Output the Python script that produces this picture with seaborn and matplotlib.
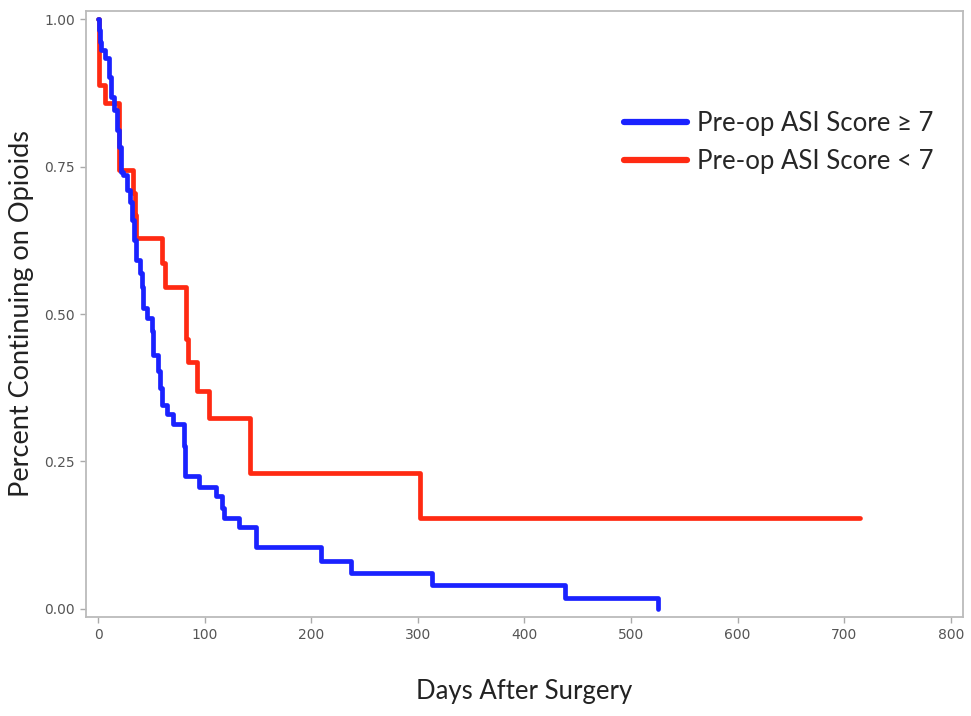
import numpy as np
import pandas as pd
import matplotlib
matplotlib.use("Agg")
import matplotlib.pyplot as plt
import seaborn as sns

# ==========================================================
# Data
# ==========================================================

HIGH_LABEL = "Pre-op ASI Score \u2265 7"
LOW_LABEL = "Pre-op ASI Score < 7"

high_days = [0, 0.9, 1.9, 2.8, 6.6, 10.3, 12.2, 15.0, 17.8, 19.7, 21.6,
             23.5, 27.2, 30.0, 31.9, 33.8, 35.6, 39.4, 41.3, 42.2, 46.0,
             50.7, 51.6, 56.3, 58.2, 60.0, 64.7, 70.4, 80.7, 81.6, 94.7,
             110.7, 116.3, 118.2, 132.3, 148.2, 209.2, 237.3, 313.3, 438.0,
             525.3]
high_surv = [1.0, 0.981, 0.961, 0.947, 0.934, 0.902, 0.868, 0.845, 0.812,
             0.783, 0.740, 0.735, 0.710, 0.689, 0.659, 0.625, 0.591, 0.569,
             0.545, 0.511, 0.494, 0.472, 0.430, 0.404, 0.375, 0.345, 0.331,
             0.314, 0.277, 0.226, 0.207, 0.192, 0.171, 0.155, 0.139, 0.105,
             0.081, 0.061, 0.041, 0.019, 0.0]

low_days = [0, 0.5, 1.0, 6.5, 19.7, 33.0, 34.5, 36.0, 60.0, 63.0, 82.5,
            84.0, 93.0, 104.0, 142.5, 302.0, 715.0]
low_surv = [1.0, 0.963, 0.889, 0.857, 0.744, 0.705, 0.667, 0.628, 0.586,
            0.545, 0.458, 0.418, 0.370, 0.324, 0.231, 0.155, 0.155]

x_ticks = [0, 100, 200, 300, 400, 500, 600, 700, 800]
y_ticks = [0.0, 0.25, 0.50, 0.75, 1.00]
y_tick_labels = ["0.00", "0.25", "0.50", "0.75", "1.00"]

# ==========================================================
# Build table
# ==========================================================

df = pd.concat([
    pd.DataFrame({"days": high_days, "surv": high_surv, "group": HIGH_LABEL}),
    pd.DataFrame({"days": low_days, "surv": low_surv, "group": LOW_LABEL}),
], ignore_index=True)

palette = {HIGH_LABEL: "#1a22ff", LOW_LABEL: "#ff2a12"}

# ==========================================================
# Plot
# ==========================================================

sns.set_style("white")
plt.rcParams["font.family"] = ["Lato", "DejaVu Sans"]

fig = plt.figure(figsize=(9.71, 7.16), dpi=100)
ax = fig.add_axes([86 / 971, (716 - 617) / 716, (963 - 86) / 971, (617 - 11) / 716])

sns.lineplot(
    data=df,
    x="days",
    y="surv",
    hue="group",
    hue_order=[LOW_LABEL, HIGH_LABEL],
    palette=palette,
    drawstyle="steps-post",
    estimator=None,
    sort=False,
    linewidth=3.4,
    ax=ax,
    legend=False,
)

ax.set_xlim(-11.3, 811.4)
ax.set_ylim(-0.0136, 1.0136)

ax.set_xticks(x_ticks)
ax.set_yticks(y_ticks)
ax.set_yticklabels(y_tick_labels)

tick_font = ["Liberation Sans Narrow", "DejaVu Sans"]
for lab in ax.get_xticklabels() + ax.get_yticklabels():
    lab.set_family(tick_font)
    lab.set_fontsize(10)
    lab.set_color("#555555")

ax.tick_params(axis="both", direction="out", length=4, width=1,
               color="#aaaaaa", pad=4, bottom=True, left=True)

for spine in ax.spines.values():
    spine.set_color("#bbbbbb")
    spine.set_linewidth(1.3)

ax.set_xlabel("Days After Surgery", fontsize=18.5, color="#222222", va="center")
ax.set_ylabel("Percent Continuing on Opioids", fontsize=19.5, color="#222222",
              va="center")
ax.xaxis.set_label_coords(0.5, -(692 - 617) / 606)
ax.yaxis.set_label_coords((22 - 86) / 877, 0.5)

# Legend
handles = [
    plt.Line2D([], [], color=palette[HIGH_LABEL], linewidth=4.5),
    plt.Line2D([], [], color=palette[LOW_LABEL], linewidth=4.5),
]
fig.legend(
    handles, [HIGH_LABEL, LOW_LABEL],
    loc="upper left",
    bbox_to_anchor=(611 / 971, 1 - 98 / 716),
    frameon=False,
    fontsize=18.5,
    handlelength=2.45,
    handletextpad=0.4,
    labelspacing=0.5,
    borderpad=0,
)

fig.savefig("out.png", dpi=100)
plt.close(fig)
